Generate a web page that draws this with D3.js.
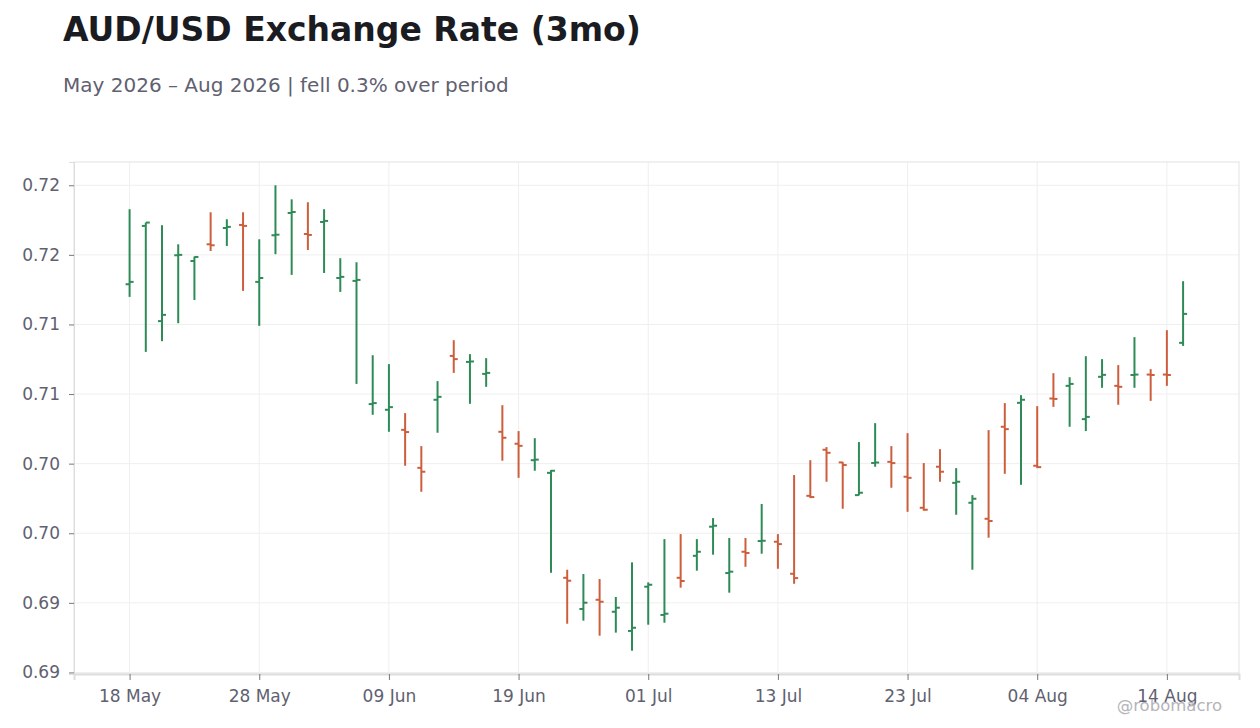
<!DOCTYPE html>
<html>
<head>
<meta charset="utf-8">
<script src="https://cdn.jsdelivr.net/npm/d3@7"></script>
<style>
  body { margin: 0; background: #fff; }
  svg { display: block; font-family: "DejaVu Sans", sans-serif; }
</style>
</head>
<body>
<svg id="chart" width="1260" height="728"></svg>
<script>
var W = 1260
var H = 728
var margin = {top: 162, right: 21, bottom: 54, left: 74}

var cUp = "#2e8b57"
var cDown = "#cd5e3c"
var cGrid = "#efefef"
var cText = "#5f6170"

// trading days, 18 May - 17 Aug 2026
var dates = [
  "2026-05-18","2026-05-19","2026-05-20","2026-05-21","2026-05-22",
  "2026-05-25","2026-05-26","2026-05-27","2026-05-28","2026-05-29",
  "2026-06-01","2026-06-02","2026-06-03","2026-06-04","2026-06-05",
  "2026-06-08","2026-06-09","2026-06-10","2026-06-11","2026-06-12",
  "2026-06-15","2026-06-16","2026-06-17","2026-06-18","2026-06-19",
  "2026-06-22","2026-06-23","2026-06-24","2026-06-25","2026-06-26",
  "2026-06-29","2026-06-30","2026-07-01","2026-07-02","2026-07-03",
  "2026-07-06","2026-07-07","2026-07-08","2026-07-09","2026-07-10",
  "2026-07-13","2026-07-14","2026-07-15","2026-07-16","2026-07-17",
  "2026-07-20","2026-07-21","2026-07-22","2026-07-23","2026-07-24",
  "2026-07-27","2026-07-28","2026-07-29","2026-07-30","2026-07-31",
  "2026-08-03","2026-08-04","2026-08-05","2026-08-06","2026-08-07",
  "2026-08-10","2026-08-11","2026-08-12","2026-08-13","2026-08-14",
  "2026-08-17"
]

var open = [
  0.71789,0.72208,0.71524,0.71997,0.71956,0.72076,0.72193,0.72215,0.71806,0.72141,
  0.72301,0.72150,0.72236,0.71834,0.71813,0.70928,0.70887,0.70743,0.70470,0.70959,
  0.71274,0.71231,0.71145,0.70729,0.70643,0.70525,0.70434,0.69680,0.69456,0.69522,
  0.69436,0.69298,0.69616,0.69413,0.69680,0.69838,0.70047,0.69714,0.69867,0.69944,
  0.69939,0.69709,0.70269,0.70600,0.70509,0.70274,0.70505,0.70513,0.70406,0.70183,
  0.70478,0.70362,0.70219,0.70104,0.70765,0.70937,0.70485,0.70968,0.71059,0.70820,
  0.71124,0.71059,0.71137,0.71140,0.71140,0.71368
]
var high = [
  0.72328,0.72232,0.72213,0.72076,0.71988,0.72306,0.72256,0.72306,0.72112,0.72500,
  0.72399,0.72378,0.72328,0.71976,0.71947,0.71279,0.71215,0.70863,0.70626,0.71093,
  0.71387,0.71287,0.71258,0.70920,0.70734,0.70683,0.70454,0.69738,0.69707,0.69671,
  0.69542,0.69791,0.69647,0.69958,0.69994,0.69958,0.70109,0.69966,0.69966,0.70210,
  0.69994,0.70418,0.70525,0.70619,0.70512,0.70655,0.70791,0.70626,0.70719,0.70504,
  0.70604,0.70468,0.70274,0.70741,0.70935,0.70992,0.70913,0.71150,0.71121,0.71272,
  0.71251,0.71208,0.71409,0.71179,0.71459,0.71811
]
var low = [
  0.71698,0.71303,0.71380,0.71509,0.71676,0.72028,0.72064,0.71741,0.71490,0.72005,
  0.71856,0.72035,0.71870,0.71734,0.71073,0.70851,0.70729,0.70485,0.70298,0.70722,
  0.71152,0.70930,0.71052,0.70521,0.70398,0.70449,0.69716,0.69350,0.69372,0.69264,
  0.69286,0.69156,0.69343,0.69357,0.69609,0.69731,0.69846,0.69573,0.69759,0.69853,
  0.69745,0.69637,0.70253,0.70370,0.70176,0.70272,0.70478,0.70327,0.70154,0.70162,
  0.70370,0.70133,0.69738,0.69968,0.70427,0.70348,0.70468,0.70908,0.70765,0.70734,
  0.71045,0.70923,0.71045,0.70951,0.71059,0.71346
]
var close = [
  0.71806,0.72232,0.71569,0.72000,0.71985,0.72069,0.72201,0.72208,0.71834,0.72145,
  0.72308,0.72143,0.72244,0.71842,0.71820,0.70935,0.70906,0.70727,0.70442,0.70980,
  0.71251,0.71234,0.71152,0.70686,0.70628,0.70529,0.70449,0.69659,0.69501,0.69508,
  0.69465,0.69321,0.69630,0.69422,0.69657,0.69867,0.70054,0.69724,0.69858,0.69946,
  0.69922,0.69678,0.70260,0.70578,0.70490,0.70291,0.70508,0.70504,0.70398,0.70169,
  0.70442,0.70370,0.70248,0.70088,0.70748,0.70959,0.70475,0.70965,0.71073,0.70836,
  0.71138,0.71052,0.71140,0.71137,0.71137,0.71576
]

var xTickIdx = [0, 8, 16, 24, 32, 40, 48, 56, 64]
var yTicks = [0.69, 0.695, 0.70, 0.705, 0.71, 0.715, 0.72, 0.725]

var parseDay = d3.timeParse("%Y-%m-%d")
var fmtDay = d3.timeFormat("%d %b")

var bars = dates.map(function(d, i) {
  return {i: i, date: parseDay(d), o: open[i], h: high[i], l: low[i], c: close[i]}
})

var svg = d3.select("#chart")
var plotW = W - margin.left - margin.right
var plotH = H - margin.top - margin.bottom

var lo = d3.min(low), hi = d3.max(high)
var pad = (hi - lo) * 0.05

var x = d3.scaleLinear()
  .domain([-3.43, bars.length - 1 + 3.45])
  .range([margin.left, margin.left + plotW])
var y = d3.scaleLinear()
  .domain([lo - pad, hi + pad])
  .range([margin.top + plotH, margin.top])

// title + subtitle
svg.append("text")
  .attr("x", 63).attr("y", 41)
  .attr("font-size", "33px")
  .attr("font-weight", "bold")
  .attr("fill", "#1b1b22")
  .text("AUD/USD Exchange Rate (3mo)")

svg.append("text")
  .attr("x", 63).attr("y", 92)
  .attr("font-size", "20px")
  .attr("fill", cText)
  .text("May 2026 \u2013 Aug 2026 | fell 0.3% over period")

// grid
var grid = svg.append("g")
grid.selectAll(".hgrid")
  .data(yTicks)
  .enter().append("line")
  .attr("x1", margin.left).attr("x2", margin.left + plotW)
  .attr("y1", function(d) { return y(d) }).attr("y2", function(d) { return y(d) })
  .attr("stroke", cGrid).attr("stroke-width", 1)
grid.selectAll(".vgrid")
  .data(xTickIdx)
  .enter().append("line")
  .attr("x1", function(d) { return x(d) }).attr("x2", function(d) { return x(d) })
  .attr("y1", margin.top).attr("y2", margin.top + plotH)
  .attr("stroke", cGrid).attr("stroke-width", 1)

// frame
svg.append("rect")
  .attr("x", margin.left).attr("y", margin.top)
  .attr("width", plotW).attr("height", plotH)
  .attr("fill", "none")
  .attr("stroke", "#e2e2e2")
  .attr("stroke-width", 1)

// axes
var yAxis = svg.append("g")
  .attr("transform", "translate(" + margin.left + ",0)")
  .call(d3.axisLeft(y).tickValues(yTicks).tickFormat(d3.format(".2f")).tickSize(5).tickPadding(9))
var xAxis = svg.append("g")
  .attr("transform", "translate(0," + (margin.top + plotH) + ")")
  .call(d3.axisBottom(x).tickValues(xTickIdx)
    .tickFormat(function(i) { return fmtDay(bars[i].date) })
    .tickSize(6).tickPadding(10))

svg.selectAll(".domain").attr("stroke", "#dddddd")
xAxis.select(".domain").attr("stroke-width", 2)
svg.selectAll(".tick line").attr("stroke", "#777")
svg.selectAll(".tick text")
  .attr("fill", cText)
  .attr("font-size", "17px")
  .attr("font-family", "DejaVu Sans, sans-serif")

// OHLC bars
var tickLen = 4
var g = svg.append("g")
var ohlc = g.selectAll(".ohlc")
  .data(bars)
  .enter().append("g")
  .attr("stroke", function(d) { return d.c >= d.o ? cUp : cDown })
  .attr("stroke-width", 2)

ohlc.append("line")
  .attr("x1", function(d) { return x(d.i) }).attr("x2", function(d) { return x(d.i) })
  .attr("y1", function(d) { return y(d.h) }).attr("y2", function(d) { return y(d.l) })
ohlc.append("line")
  .attr("x1", function(d) { return x(d.i) - tickLen }).attr("x2", function(d) { return x(d.i) })
  .attr("y1", function(d) { return y(d.o) }).attr("y2", function(d) { return y(d.o) })
ohlc.append("line")
  .attr("x1", function(d) { return x(d.i) }).attr("x2", function(d) { return x(d.i) + tickLen })
  .attr("y1", function(d) { return y(d.c) }).attr("y2", function(d) { return y(d.c) })

// watermark
svg.append("text")
  .attr("x", 1222).attr("y", 711)
  .attr("text-anchor", "end")
  .attr("font-size", "16.5px")
  .attr("fill", "#b4b4b8")
  .text("@robomacro")
</script>
</body>
</html>
